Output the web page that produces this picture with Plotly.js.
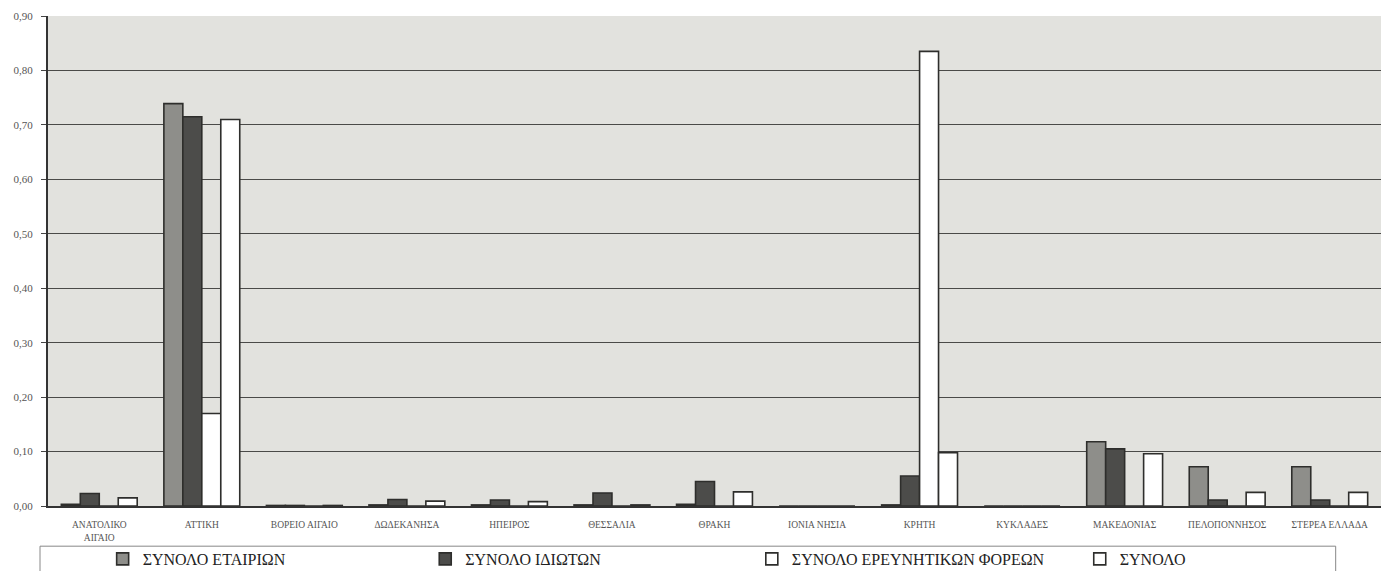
<!DOCTYPE html>
<html>
<head>
<meta charset="utf-8">
<script src="https://cdn.plot.ly/plotly-3.0.1.min.js"></script>
<style>html,body{margin:0;padding:0;background:#fff;}#chart{width:1391px;height:571px;}</style>
</head>
<body>
<div id="chart"></div>
<script>
const categories = ["ΑΝΑΤΟΛΙΚΟ ΑΙΓΑΙΟ","ΑΤΤΙΚΗ","ΒΟΡΕΙΟ ΑΙΓΑΙΟ","ΔΩΔΕΚΑΝΗΣΑ","ΗΠΕΙΡΟΣ","ΘΕΣΣΑΛΙΑ","ΘΡΑΚΗ","ΙΟΝΙΑ ΝΗΣΙΑ","ΚΡΗΤΗ","ΚΥΚΛΑΔΕΣ","ΜΑΚΕΔΟΝΙΑΣ","ΠΕΛΟΠΟΝΝΗΣΟΣ","ΣΤΕΡΕΑ ΕΛΛΑΔΑ"];
const tickLabels = ["ΑΝΑΤΟΛΙΚΟ<br>ΑΙΓΑΙΟ","ΑΤΤΙΚΗ","ΒΟΡΕΙΟ ΑΙΓΑΙΟ","ΔΩΔΕΚΑΝΗΣΑ","ΗΠΕΙΡΟΣ","ΘΕΣΣΑΛΙΑ","ΘΡΑΚΗ","ΙΟΝΙΑ ΝΗΣΙΑ","ΚΡΗΤΗ","ΚΥΚΛΑΔΕΣ","ΜΑΚΕΔΟΝΙΑΣ","ΠΕΛΟΠΟΝΝΗΣΟΣ","ΣΤΕΡΕΑ ΕΛΛΑΔΑ"];
const seriesNames = ["ΣΥΝΟΛΟ ΕΤΑΙΡΙΩΝ","ΣΥΝΟΛΟ ΙΔΙΩΤΩΝ","ΣΥΝΟΛΟ ΕΡΕΥΝΗΤΙΚΩΝ ΦΟΡΕΩΝ","ΣΥΝΟΛΟ"];
const etairion     = [0.003, 0.739, 0.001, 0.002, 0.002, 0.002, 0.003, 0, 0.002, 0, 0.118, 0.072, 0.072];
const idioton      = [0.023, 0.715, 0.001, 0.012, 0.011, 0.024, 0.045, 0, 0.055, 0, 0.105, 0.011, 0.011];
const ereunitikon  = [0, 0.170, 0, 0, 0, 0, 0, 0, 0.835, 0, 0, 0, 0];
const synolo       = [0.015, 0.710, 0.001, 0.009, 0.008, 0.002, 0.026, 0, 0.098, 0, 0.096, 0.025, 0.025];
const yTicks = [0,0.1,0.2,0.3,0.4,0.5,0.6,0.7,0.8,0.9];

const SERIF = 'Liberation Serif, Times New Roman, serif';
const fills = ["#8e8e8a","#4c4c4a","#ffffff","#ffffff"];
const legendIds = ['legend','legend2','legend3','legend4'];
const legendX = [0.041, 0.283, 0.528, 0.774];
const vals = [etairion, idioton, ereunitikon, synolo];
const traces = vals.map((v,i)=>({
  type:'bar', x:categories, y:v, name:seriesNames[i], legend:legendIds[i],
  marker:{color:fills[i], line:{color:'#2e2e2c', width:1.6}},
  hoverinfo:'skip'
}));

const layout = {
  width:1391, height:571,
  margin:{l:48, r:10, t:16, b:65, autoexpand:false},
  paper_bgcolor:'#ffffff',
  plot_bgcolor:'#e2e2de',
  barmode:'group', bargap:0.26, bargroupgap:0,
  separators:',.',
  font:{family:SERIF, color:'#444'},
  xaxis:{
    tickmode:'array', tickvals:categories, ticktext:tickLabels,
    tickfont:{size:9.5, color:'#555', family:SERIF}, tickangle:0,
    ticklabelstandoff:9,
    showline:true, linecolor:'#333', linewidth:2,
    ticks:'', showgrid:false, automargin:false
  },
  yaxis:{
    range:[0,0.9], tickmode:'array', tickvals:yTicks, tickformat:'.2f',
    tickfont:{size:11, color:'#555', family:SERIF},
    ticklabelstandoff:6,
    showgrid:true, gridcolor:'#4a4a48', gridwidth:1,
    showline:true, linecolor:'#333', linewidth:2,
    ticks:'outside', ticklen:5, tickcolor:'#444', zeroline:false, automargin:false
  },
  showlegend:true,
  shapes:[{
    type:'rect', xref:'paper', yref:'paper',
    x0:-0.006, x1:0.966, y0:-0.082, y1:-0.2,
    line:{color:'#888', width:1}, fillcolor:'rgba(0,0,0,0)'
  }]
};
legendIds.forEach((id,i)=>{
  layout[id] = {
    orientation:'h', x:legendX[i], xanchor:'left', y:-0.0735, yanchor:'top',
    font:{size:16, color:'#222', family:SERIF},
    bgcolor:'rgba(0,0,0,0)', borderwidth:0, itemwidth:30
  };
});
Plotly.newPlot('chart', traces, layout, {displayModeBar:false, staticPlot:true});
</script>
</body>
</html>
